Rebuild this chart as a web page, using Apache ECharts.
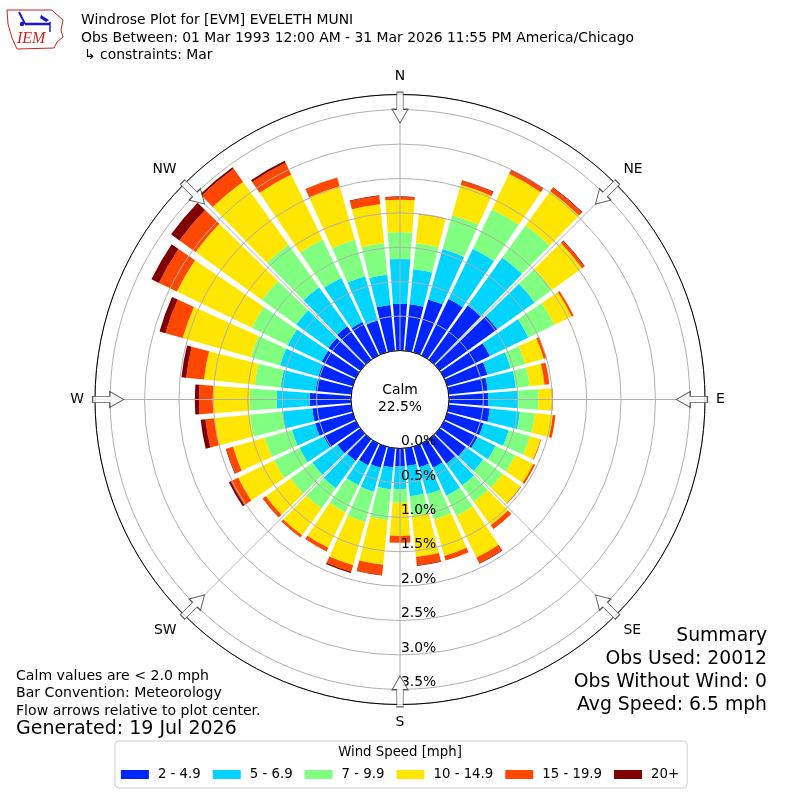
<!DOCTYPE html>
<html>
<head>
<meta charset="utf-8">
<script src="https://cdn.jsdelivr.net/npm/echarts@6/dist/echarts.min.js"></script>
<style>html,body{margin:0;padding:0;background:#fff}#c{width:800px;height:800px}</style>
</head>
<body>
<div id="c"></div>
<script>
// ---------- DATA ----------
const directions = ['0','10','20','30','40','50','60','70','80','90','100','110','120','130','140','150','160','170',
  '180','190','200','210','220','230','240','250','260','270','280','290','300','310','320','330','340','350'];
const speedBins = ['2 - 4.9','5 - 6.9','7 - 9.9','10 - 14.9','15 - 19.9','20+'];
// frequency (%) per direction (N clockwise, 10 deg bins)
const bin2to5 = [0.68,0.68,0.80,0.91,0.97,1.03,0.74,0.61,0.57,0.57,0.60,0.55,0.54,0.47,0.44,0.39,0.31,0.26,
  0.26,0.28,0.32,0.35,0.39,0.41,0.52,0.57,0.57,0.60,0.52,0.52,0.55,0.57,0.60,0.54,0.48,0.67];
const bin5to7 = [0.65,0.51,0.76,0.81,0.86,0.67,0.62,0.35,0.41,0.44,0.44,0.38,0.29,0.31,0.39,0.45,0.41,0.44,
  0.33,0.32,0.36,0.32,0.49,0.45,0.39,0.35,0.44,0.48,0.51,0.58,0.55,0.58,0.70,0.71,0.67,0.44];
const bin7to10 = [0.39,0.38,0.51,0.64,0.58,0.31,0.42,0.22,0.20,0.29,0.22,0.32,0.32,0.35,0.29,0.33,0.38,0.29,
  0.20,0.45,0.46,0.44,0.36,0.39,0.41,0.41,0.47,0.39,0.38,0.44,0.58,0.61,0.76,0.62,0.55,0.46];
const bin10to15 = [0.47,0.42,0.46,0.57,0.61,0.54,0.28,0.28,0.22,0.20,0.26,0.16,0.29,0.32,0.42,0.67,0.55,0.60,
  0.48,0.65,0.65,0.57,0.48,0.44,0.58,0.48,0.52,0.54,0.74,1.03,1.21,1.19,1.13,1.05,0.81,0.57];
const bin15to20 = [0.04,0.01,0.06,0.06,0.06,0.04,0.03,0.04,0.07,0.01,0.04,0.01,0.03,0.01,0.07,0.09,0.07,0.12,
  0.10,0.15,0.10,0.06,0.04,0.06,0.12,0.10,0.13,0.20,0.26,0.26,0.29,0.29,0.23,0.19,0.13,0.12];
const bin20plus = [0.01,0.00,0.01,0.01,0.01,0.01,0.00,0.00,0.00,0.00,0.00,0.00,0.00,0.00,0.00,0.01,0.00,0.01,
  0.00,0.01,0.02,0.00,0.00,0.00,0.03,0.01,0.07,0.06,0.07,0.09,0.12,0.15,0.03,0.03,0.00,0.01];
const binValues = [bin2to5, bin5to7, bin7to10, bin10to15, bin15to20, bin20plus];
const compassLabels = ['N','NE','E','SE','S','SW','W','NW'];
const compassAngles = [0,45,90,135,180,225,270,315];
const radialMax = 3.72;
const radialStep = 0.5;
const arrowRadius = 3.53;
const calmPercent = 22.5;
const calmLimit = 2.0;
const obsUsed = 20012;
const obsWithoutWind = 0;
const avgSpeed = 6.5;

// ---------- STYLE ----------
const FONT = 'DejaVu Sans';
const colors = ['#0026ff','#00d4ff','#80ff80','#ffe600','#ff4700','#800000'];
const CX = 400, CY = 399.5, R0 = 49, R1 = 305;

const chart = echarts.init(document.getElementById('c'), null, {renderer: 'canvas'});

function txt(x, y, text, size, align, extra) {
  return Object.assign({
    type: 'text', x: x, y: y, z: 100,
    style: {text: text, fill: '#000', font: size + 'px "' + FONT + '"', align: align || 'left', verticalAlign: 'middle'}
  }, extra || {});
}

const series = speedBins.map((name, i) => ({
  name: name, type: 'bar', coordinateSystem: 'polar', polarIndex: 0, stack: 'wind',
  data: binValues[i], barWidth: '84%', itemStyle: {color: colors[i]}, z: 2
}));
series.push({
  name: 'arrows', type: 'scatter', coordinateSystem: 'polar', polarIndex: 1, z: 20,
  data: compassAngles.map(a => [arrowRadius, a]),
  symbol: 'path://M5,0 L10,8 L7,8 L7,18 L3,18 L3,8 L0,8 Z',
  symbolKeepAspect: false,
  symbolSize: [16, 31],
  symbolRotate: (v) => 180 - v[1],
  itemStyle: {color: '#fff', borderColor: '#333', borderWidth: 1},
  silent: true
});

const option = {
  animation: false,
  backgroundColor: '#fff',
  textStyle: {fontFamily: FONT},
  polar: [
    {center: [CX, CY], radius: [R0, R1]},
    {center: [CX, CY], radius: [R0, R1]},
    {center: [CX, CY], radius: [R0, R1]}
  ],
  angleAxis: [
    {polarIndex: 0, type: 'category', data: directions, startAngle: 95, clockwise: true,
     axisLine: {show: false}, axisTick: {show: false}, axisLabel: {show: false}, splitLine: {show: false}},
    {polarIndex: 1, type: 'value', min: 0, max: 360, interval: 45, startAngle: 90, clockwise: true, z: 11,
     axisLine: {show: true, lineStyle: {color: '#000', width: 1}},
     axisTick: {show: false},
     axisLabel: {show: true, margin: 11, color: '#000', fontSize: 13.9, fontFamily: FONT,
       formatter: (v) => compassLabels[Math.round(v / 45) % 8]},
     splitLine: {show: true, lineStyle: {color: '#b0b0b0', width: 1}}},
    {polarIndex: 2, type: 'value', min: 0, max: 360, startAngle: -90, clockwise: true, show: false}
  ],
  radiusAxis: [
    {polarIndex: 0, type: 'value', min: 0, max: radialMax, show: false},
    {polarIndex: 1, type: 'value', min: 0, max: radialMax, show: false},
    {polarIndex: 2, type: 'value', min: 0, max: radialMax, interval: radialStep, z: 10,
     axisLine: {show: false}, axisTick: {show: false},
     axisLabel: {show: true, showMaxLabel: false, margin: 1, color: '#000', fontSize: 13.9, fontFamily: FONT,
       align: 'left', verticalAlign: 'bottom', formatter: (v) => v.toFixed(1) + '%'},
     splitLine: {show: true, lineStyle: {color: '#b0b0b0', width: 1}}}
  ],
  legend: {
    data: speedBins, left: 'center', top: 741, orient: 'horizontal', icon: 'rect',
    itemWidth: 28, itemHeight: 9, itemGap: 12, padding: [27, 8, 7, 6],
    borderColor: '#cccccc', borderWidth: 1, borderRadius: 4, selectedMode: false,
    textStyle: {fontFamily: FONT, fontSize: 13.3, color: '#000', padding: [0, 0, 0, 4]}
  },
  graphic: [
    // logo
    {type: 'polygon', z: 100, shape: {points: [[7,10],[52,10],[56,14],[63,20],[61,30],[63,37],[57,42],[54,48],[17,49],[12,38],[8,24]]},
     style: {fill: null, stroke: '#cc2222', lineWidth: 1}},
    {type: 'polyline', z: 100, shape: {points: [[25,24],[50,24]]}, style: {stroke: '#1a1acc', lineWidth: 2.5}},
    {type: 'polyline', z: 100, shape: {points: [[19,12],[25,24]]}, style: {stroke: '#1a1acc', lineWidth: 2}},
    {type: 'polygon', z: 100, shape: {points: [[41,15],[49,20],[46,22],[40,18]]}, style: {fill: '#1a1acc'}},
    {type: 'polyline', z: 100, shape: {points: [[50,22],[50,32]]}, style: {stroke: '#1a1acc', lineWidth: 1.5}},
    {type: 'circle', z: 100, shape: {cx: 22, cy: 24, r: 2.2}, style: {fill: '#1a1acc'}},
    txt(17, 39, 'IEM', 16, 'left', {style: {text: 'IEM', fill: '#cc2222', font: 'italic 16px "Liberation Serif"', align: 'left', verticalAlign: 'middle'}}),
    // header
    txt(81, 20, 'Windrose Plot for [EVM] EVELETH MUNI', 13.9),
    txt(81, 38, 'Obs Between: 01 Mar 1993 12:00 AM - 31 Mar 2026 11:55 PM America/Chicago', 13.9),
    txt(84, 55, '\u21b3 constraints: Mar', 13.9),
    // calm
    txt(CX, 390, 'Calm', 13.9, 'center'),
    txt(CX, 407, calmPercent.toFixed(1) + '%', 13.9, 'center'),
    // notes
    txt(16, 676, 'Calm values are < ' + calmLimit.toFixed(1) + ' mph', 14.1),
    txt(16, 693, 'Bar Convention: Meteorology', 14.1),
    txt(16, 711, 'Flow arrows relative to plot center.', 14.1),
    txt(16, 729, 'Generated: 19 Jul 2026', 19),
    // summary
    txt(767, 636, 'Summary', 18.8, 'right'),
    txt(767, 659, 'Obs Used: ' + obsUsed, 18.8, 'right'),
    txt(767, 682, 'Obs Without Wind: ' + obsWithoutWind, 18.8, 'right'),
    txt(767, 705, 'Avg Speed: ' + avgSpeed.toFixed(1) + ' mph', 18.8, 'right'),
    // legend title
    txt(400, 753, 'Wind Speed [mph]', 13.3, 'center')
  ],
  series: series
};
chart.setOption(option);
</script>
</body>
</html>
